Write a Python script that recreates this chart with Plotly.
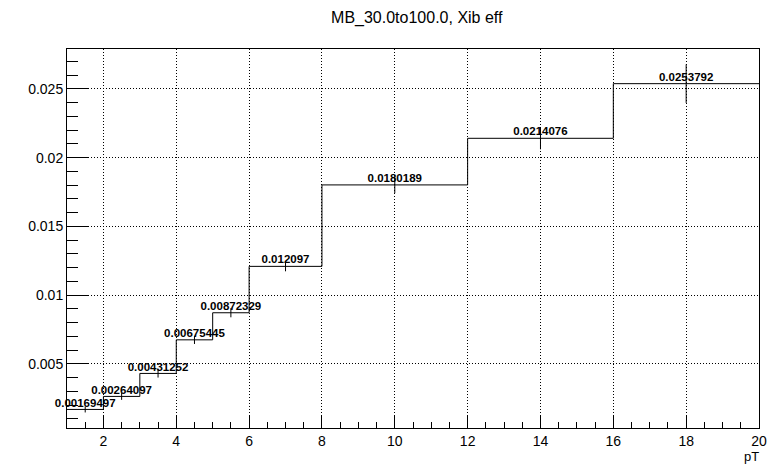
import plotly.graph_objects as go

bin_edges = [1, 2, 3, 4, 5, 6, 8, 12, 16, 20]
eff_values = [0.00169497, 0.00264097, 0.00431252, 0.00675445, 0.00872329,
              0.012097, 0.0180189, 0.0214076, 0.0253792]
eff_errors = [0.00022, 0.00025, 0.0003, 0.0003, 0.00033, 0.00036, 0.0006, 0.0008, 0.0014]
labels = ["0.00169497", "0.00264097", "0.00431252", "0.00675445", "0.00872329",
          "0.012097", "0.0180189", "0.0214076", "0.0253792"]
y_tickvals = [0.005, 0.01, 0.015, 0.02, 0.025]
y_ticktext = ["0.005", "0.01", "0.015", "0.02", "0.025"]
x_tickvals = [2, 4, 6, 8, 10, 12, 14, 16, 18, 20]

centers = [(a + b) / 2 for a, b in zip(bin_edges[:-1], bin_edges[1:])]
step_y = eff_values + [eff_values[-1]]

fig = go.Figure()
fig.add_trace(go.Scatter(x=bin_edges, y=step_y, mode="lines", line_shape="hv",
                         line=dict(color="black", width=1), hoverinfo="skip"))
fig.add_trace(go.Scatter(x=centers, y=eff_values, mode="markers",
                         marker=dict(size=0.1, color="black"),
                         error_y=dict(type="data", array=eff_errors, color="black",
                                      thickness=1, width=0)))
fig.add_trace(go.Scatter(x=centers, y=eff_values, mode="text", text=labels,
                         textposition="top center", cliponaxis=False,
                         textfont=dict(family="Liberation Sans", size=11.5, color="black",
                                       weight="bold")))

fig.update_layout(
    width=779, height=467,
    margin=dict(l=67, r=14, t=49, b=39),
    plot_bgcolor="white", paper_bgcolor="white",
    showlegend=False,
    font=dict(family="Liberation Sans", color="black", size=13),
    title=dict(text="MB_30.0to100.0, Xib eff", x=0.535, xanchor="center",
               y=0.962, yanchor="middle",
               font=dict(size=16, family="Liberation Sans")),
)
fig.update_xaxes(range=[1, 20], tickvals=x_tickvals, ticks="inside", ticklen=13,
                 tickcolor="black", showline=True, linecolor="black", mirror=True,
                 showgrid=True, gridcolor="black", griddash="1px,2px", gridwidth=1,
                 zeroline=False,
                 minor=dict(dtick=0.5, tick0=0, ticks="inside", ticklen=6,
                            tickcolor="black", showgrid=False),
                 tickfont=dict(size=14))
fig.update_yaxes(range=[0.000345, 0.0279], tickvals=y_tickvals, ticktext=y_ticktext,
                 ticks="inside", ticklen=21, tickcolor="black", showline=True,
                 linecolor="black", mirror=True, showgrid=True, gridcolor="black",
                 griddash="1px,2px", gridwidth=1, zeroline=False,
                 minor=dict(dtick=0.001, tick0=0, ticks="inside", ticklen=11,
                            tickcolor="black", showgrid=False),
                 tickfont=dict(size=14))
fig.add_annotation(text="pT", xref="paper", yref="paper", x=1.003, y=-0.075,
                   xanchor="right", yanchor="middle", showarrow=False,
                   font=dict(size=13))
fig.write_html("out.html", config={"displayModeBar": False},
               post_script="document.body.style.margin='0';")
